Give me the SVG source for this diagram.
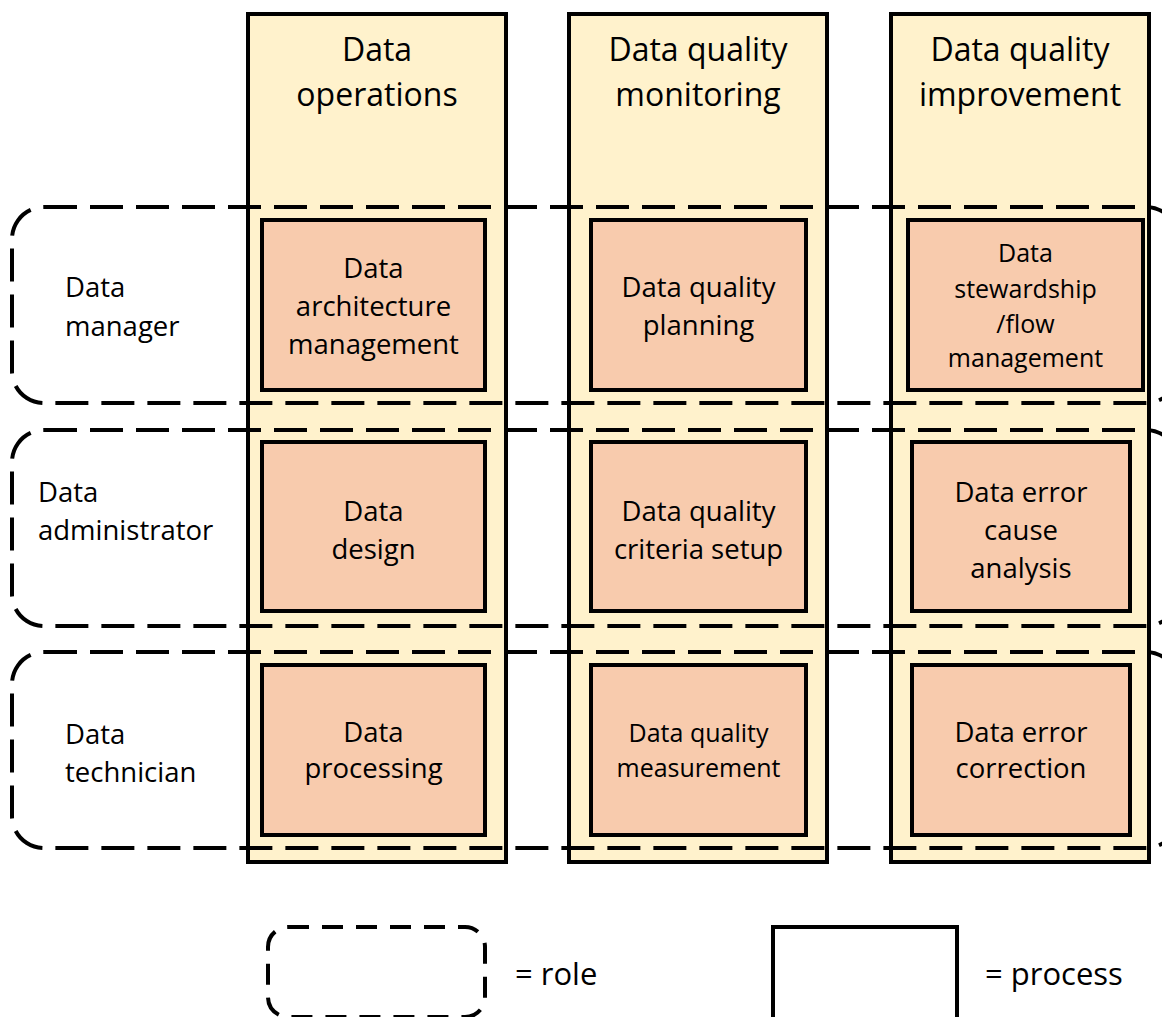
<svg xmlns="http://www.w3.org/2000/svg" width="1162" height="1017" viewBox="0 0 1162 1017">
  <style>
    .lane { fill: #FFF2CC; stroke: #000; stroke-width: 4; }
    .proc { fill: #F8CBAD; stroke: #000; stroke-width: 4; }
    .role { fill: none; stroke: #000; stroke-width: 4; stroke-dasharray: 33 13; }
    .role-key { fill: none; stroke: #000; stroke-width: 4; stroke-dasharray: 21 13; }
    .key { fill: #fff; stroke: #000; stroke-width: 4; }
    text { font-family: "Open Sans", "Liberation Sans", sans-serif; fill: #000; }
    .head { font-size: 32px; text-anchor: middle; }
    .lbl { font-size: 27.5px; text-anchor: middle; }
    .sm { font-size: 25px; text-anchor: middle; }
    .role-lbl { font-size: 27.5px; }
    .legend { font-size: 31px; }
  </style>
  <rect width="1162" height="1017" fill="#fff"/>

  <!-- Process lanes (columns) -->
  <g id="lane-operations">
    <rect class="lane" x="248" y="14" width="258" height="848"/>
    <text class="head" x="377" y="61">Data</text>
    <text class="head" x="377" y="106">operations</text>
  </g>
  <g id="lane-monitoring">
    <rect class="lane" x="569" y="14" width="258" height="848"/>
    <text class="head" x="698" y="61">Data quality</text>
    <text class="head" x="698" y="106">monitoring</text>
  </g>
  <g id="lane-improvement">
    <rect class="lane" x="891" y="14" width="258" height="848"/>
    <text class="head" x="1020" y="61">Data quality</text>
    <text class="head" x="1020" y="106">improvement</text>
  </g>

  <!-- Role bands (dashed rounded rectangles) -->
  <g id="connectors">
    <rect class="role" x="12" y="207" width="1166" height="196" rx="32"/>
    <rect class="role" x="12" y="430" width="1166" height="196" rx="32"/>
    <rect class="role" x="12" y="652" width="1166" height="196" rx="32"/>
  </g>

  <g id="role-manager">
    <text class="role-lbl" x="65" y="297">Data</text>
    <text class="role-lbl" x="65" y="336">manager</text>
  </g>
  <g id="role-administrator">
    <text class="role-lbl" x="38" y="502">Data</text>
    <text class="role-lbl" x="38" y="540">administrator</text>
  </g>
  <g id="role-technician">
    <text class="role-lbl" x="65" y="744">Data</text>
    <text class="role-lbl" x="65" y="782">technician</text>
  </g>

  <!-- Processes: row 1 -->
  <g id="p-architecture">
    <rect class="proc" x="262" y="220" width="223" height="170"/>
    <text class="lbl" x="373.5" y="278">Data</text>
    <text class="lbl" x="373.5" y="316">architecture</text>
    <text class="lbl" x="373.5" y="354">management</text>
  </g>
  <g id="p-planning">
    <rect class="proc" x="591" y="220" width="215" height="170"/>
    <text class="lbl" x="698.5" y="297">Data quality</text>
    <text class="lbl" x="698.5" y="335">planning</text>
  </g>
  <g id="p-stewardship">
    <rect class="proc" x="908" y="220" width="235" height="170"/>
    <text class="sm" x="1025.5" y="262">Data</text>
    <text class="sm" x="1025.5" y="298">stewardship</text>
    <text class="sm" x="1025.5" y="333">/flow</text>
    <text class="sm" x="1025.5" y="367">management</text>
  </g>

  <!-- Processes: row 2 -->
  <g id="p-design">
    <rect class="proc" x="262" y="442" width="223" height="169"/>
    <text class="lbl" x="373.5" y="521">Data</text>
    <text class="lbl" x="373.5" y="559">design</text>
  </g>
  <g id="p-criteria">
    <rect class="proc" x="591" y="442" width="215" height="169"/>
    <text class="lbl" x="698.5" y="521">Data quality</text>
    <text class="lbl" x="698.5" y="559">criteria setup</text>
  </g>
  <g id="p-cause">
    <rect class="proc" x="912" y="442" width="218" height="169"/>
    <text class="lbl" x="1021" y="502">Data error</text>
    <text class="lbl" x="1021" y="540">cause</text>
    <text class="lbl" x="1021" y="578">analysis</text>
  </g>

  <!-- Processes: row 3 -->
  <g id="p-processing">
    <rect class="proc" x="262" y="665" width="223" height="170"/>
    <text class="lbl" x="373.5" y="742">Data</text>
    <text class="lbl" x="373.5" y="778">processing</text>
  </g>
  <g id="p-measurement">
    <rect class="proc" x="591" y="665" width="215" height="170"/>
    <text class="sm" x="698.5" y="742">Data quality</text>
    <text class="sm" x="698.5" y="777">measurement</text>
  </g>
  <g id="p-correction">
    <rect class="proc" x="912" y="665" width="218" height="170"/>
    <text class="lbl" x="1021" y="742">Data error</text>
    <text class="lbl" x="1021" y="778">correction</text>
  </g>

  <!-- Legend -->
  <g id="legend-role">
    <rect class="role-key" x="268" y="927" width="217" height="90" rx="20"/>
    <text class="legend" x="515" y="985">= role</text>
  </g>
  <g id="legend-process">
    <rect class="key" x="773" y="927" width="184" height="92"/>
    <text class="legend" x="985" y="985">= process</text>
  </g>
</svg>
